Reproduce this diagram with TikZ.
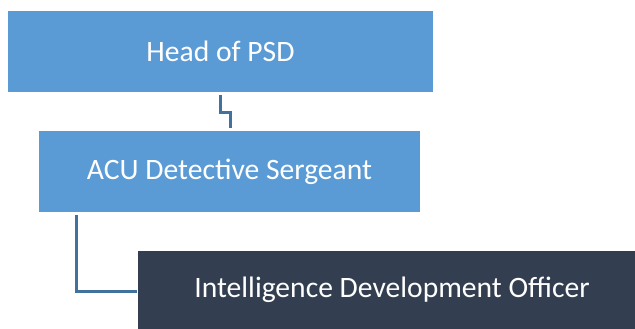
\documentclass[tikz,border=0pt]{standalone}
\usepackage{fontspec}
\setmainfont{Carlito}
\definecolor{boxblue}{HTML}{5B9BD5}
\definecolor{boxdark}{HTML}{333F50}
\definecolor{linkblue}{HTML}{41719C}
\begin{document}
\begin{tikzpicture}[x=1pt,y=-1pt,
  orgbox/.style={draw=none,text=white,inner sep=0pt,outer sep=0pt,font=\fontsize{29.6}{34}\selectfont},
  link/.style={draw=linkblue,line width=3pt}]
\useasboundingbox (0,0) rectangle (635,329);
\node[orgbox,fill=boxblue,minimum width=425pt,minimum height=81pt] (head) at (220.5,51.5) {Head of PSD};
\node[orgbox,fill=boxblue,minimum width=381pt,minimum height=81pt] (acu) at (229.5,171.5) {ACU Detective Sergeant};
\node[orgbox,fill=boxdark,minimum width=497pt,minimum height=78pt] (ido) at (386.5,290) {};
\node[text=white,font=\fontsize{29.6}{34}\selectfont] (idotext) at (392,290) {Intelligence Development Officer};
\coordinate (c1) at (220,95);
\coordinate (c2) at (230,128);
\draw[link] (c1) -- (220,112) -- (230,112) -- (c2);
\coordinate (c3) at (76,215);
\coordinate (c4) at (137,291);
\draw[link] (c3) |- (c4);
\end{tikzpicture}
\end{document}
